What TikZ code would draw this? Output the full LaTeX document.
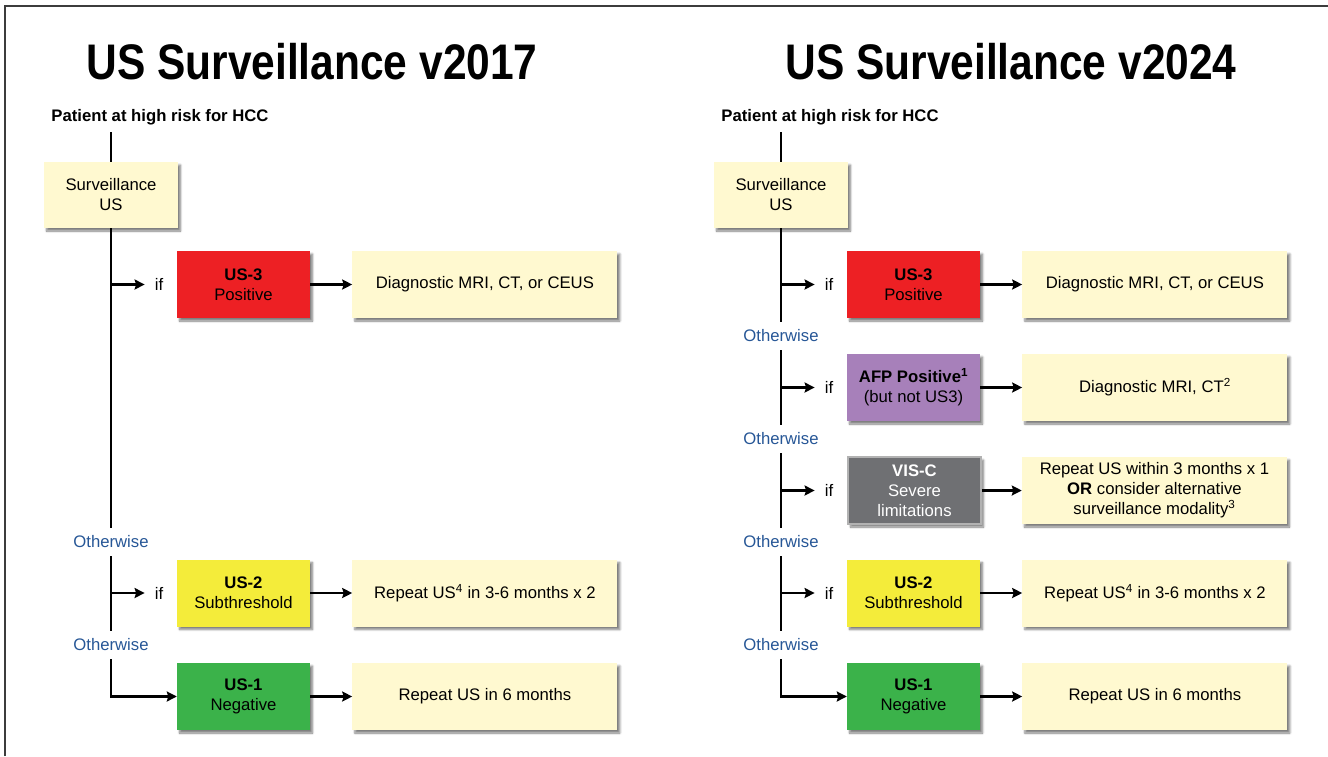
\documentclass[tikz,border=0pt]{standalone}
\usepackage{fontspec}
\setmainfont{Liberation Sans}
\newfontfamily\titlefont{Liberation Sans}[FakeStretch=0.85]
\usepackage{tikz}
\usetikzlibrary{positioning,arrows.meta,shadows.blur}
\definecolor{creambox}{RGB}{255,249,208}
\definecolor{usred}{RGB}{237,32,36}
\definecolor{usyellow}{RGB}{244,236,58}
\definecolor{usgreen}{RGB}{59,178,74}
\definecolor{afppurple}{RGB}{167,128,186}
\definecolor{visgray}{RGB}{111,112,115}
\definecolor{otherblue}{RGB}{38,86,150}
\definecolor{framegray}{RGB}{60,60,60}
\newcommand{\bodyfont}{\fontsize{16.7}{20}\selectfont}

\begin{document}
\begin{tikzpicture}[
    x=1pt, y=-1pt,
    font=\bodyfont,
    box/.style={minimum width=133pt, minimum height=67pt, align=center, inner sep=2pt,
        blur shadow={shadow xshift=2.5pt, shadow yshift=-3pt, shadow blur steps=6, shadow opacity=50}},
    result/.style={box, fill=creambox, minimum width=265pt},
    arrow/.style={-{Stealth[length=10pt,width=10pt,inset=1.5pt]}, line width=2.8pt},
    trunk/.style={line width=2.8pt},
    other/.style={text=otherblue, inner xsep=2pt, inner ysep=8pt},
    cond/.style={inner sep=3pt},
    heading/.style={font=\titlefont\bfseries\fontsize{50}{56}\selectfont},
    patient/.style={font=\bodyfont\bfseries}
]
    \useasboundingbox (0,0) rectangle (1328,756);
    \draw[framegray, line width=1.5pt] (5,756) -- (5,6) -- (1328,6);

    % Titles
    \node[heading] (titleL) at (312,62) {US Surveillance v2017};
    \node[heading] (titleR) at (1011,62) {US Surveillance v2024};

    % Left panel: v2017
    \node[patient] (pat) at (160,117.5) {Patient at high risk for HCC};
    \coordinate (patdown) at (111,132);
    \node[box, fill=creambox, minimum width=134pt, minimum height=66pt] (surv) at (111,195) {Surveillance\\US};

    \node[box, fill=usred] (us3) at (243.5,284.5) {\textbf{US-3}\\Positive};
    \node[result, right=42pt of us3] (diag) {Diagnostic MRI, CT, or CEUS};
    \node[cond] (if3) at (159,284.5) {if};

    \node[other] (ow1) at (111,542) {Otherwise};
    \node[box, fill=usyellow] (us2) at (243.5,593) {\textbf{US-2}\\Subthreshold};
    \node[result, right=42pt of us2] (rep2) {Repeat US\textsuperscript{4} in 3-6 months x 2};
    \node[cond] (if2) at (159,593) {if};

    \node[other] (ow2) at (111,645) {Otherwise};
    \node[box, fill=usgreen] (us1) at (243.5,696.5) {\textbf{US-1}\\Negative};
    \node[result, right=42pt of us1] (rep1) {Repeat US in 6 months};

    % Left connections
    \draw[trunk] (patdown) -- (surv.north);
    \draw[trunk] (surv.south) -- (ow1.north);
    \draw[arrow, shorten >=7pt] (surv.south |- if3) -- (if3.west);
    \draw[arrow] (us3) -- (diag);
    \draw[trunk] (ow1.south) -- (ow2.north);
    \draw[arrow, shorten >=7pt] (ow1.south |- if2) -- (if2.west);
    \draw[arrow] (us2) -- (rep2);
    \draw[arrow] (ow2.south) |- (us1.west);
    \draw[arrow] (us1) -- (rep1);

    % Right panel: v2024
    \begin{scope}[xshift=670pt]
    \node[patient] (rpat) at (160,117.5) {Patient at high risk for HCC};
    \coordinate (rpatdown) at (111,132);
    \node[box, fill=creambox, minimum width=134pt, minimum height=66pt] (rsurv) at (111,195) {Surveillance\\US};

    \node[box, fill=usred] (rus3) at (243.5,284.5) {\textbf{US-3}\\Positive};
    \node[result, right=42pt of rus3] (rdiag) {Diagnostic MRI, CT, or CEUS};
    \node[cond] (rif3) at (159,284.5) {if};

    \node[other] (row1) at (111,336) {Otherwise};
    \node[box, fill=afppurple] (rafp) at (243.5,387.5) {\textbf{AFP Positive\textsuperscript{1}}\\(but not US3)};
    \node[result, right=42pt of rafp] (rdiagafp) {Diagnostic MRI, CT\textsuperscript{2}};
    \node[cond] (rifafp) at (159,387.5) {if};

    \node[other] (row2) at (111,439) {Otherwise};
    \node[box, fill=visgray, draw=black!30, line width=1.5pt, text=white] (rvis) at (244.5,490.5) {\textbf{VIS-C}\\Severe\\limitations};
    \node[result, right=40pt of rvis] (rrepvis) {Repeat US within 3 months x 1\\\textbf{OR} consider alternative\\surveillance modality\textsuperscript{3}};
    \node[cond] (rifvis) at (159,490.5) {if};

    \node[other] (row3) at (111,542) {Otherwise};
    \node[box, fill=usyellow] (rus2) at (243.5,593) {\textbf{US-2}\\Subthreshold};
    \node[result, right=42pt of rus2] (rrep2) {Repeat US\textsuperscript{4} in 3-6 months x 2};
    \node[cond] (rif2) at (159,593) {if};

    \node[other] (row4) at (111,645) {Otherwise};
    \node[box, fill=usgreen] (rus1) at (243.5,696.5) {\textbf{US-1}\\Negative};
    \node[result, right=42pt of rus1] (rrep1) {Repeat US in 6 months};
    \end{scope}

    % Right connections
    \draw[trunk] (rpatdown) -- (rsurv.north);
    \draw[trunk] (rsurv.south) -- (row1.north);
    \draw[arrow, shorten >=7pt] (rsurv.south |- rif3) -- (rif3.west);
    \draw[arrow] (rus3) -- (rdiag);
    \draw[trunk] (row1.south) -- (row2.north);
    \draw[arrow, shorten >=7pt] (row1.south |- rifafp) -- (rifafp.west);
    \draw[arrow] (rafp) -- (rdiagafp);
    \draw[trunk] (row2.south) -- (row3.north);
    \draw[arrow, shorten >=7pt] (row2.south |- rifvis) -- (rifvis.west);
    \draw[arrow] (rvis) -- (rrepvis);
    \draw[trunk] (row3.south) -- (row4.north);
    \draw[arrow, shorten >=7pt] (row3.south |- rif2) -- (rif2.west);
    \draw[arrow] (rus2) -- (rrep2);
    \draw[arrow] (row4.south) |- (rus1.west);
    \draw[arrow] (rus1) -- (rrep1);
\end{tikzpicture}
\end{document}
